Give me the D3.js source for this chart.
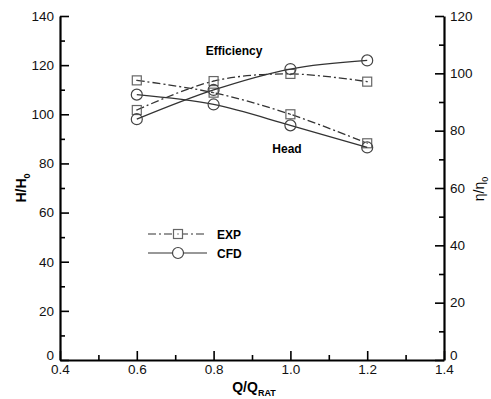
<!DOCTYPE html>
<html>
<head>
<meta charset="utf-8">
<script src="https://cdn.jsdelivr.net/npm/d3@7"></script>
<style>
  body { margin: 0; background: #fff; }
  text { font-family: "Liberation Sans", Arial, sans-serif; }
</style>
</head>
<body>
<div id="chart"></div>
<script>
// Data
var flowRatio = [0.6, 0.8, 1.0, 1.2];
var expHead = [113.8, 108.8, 100.0, 88.2];
var cfdHead = [108.0, 104.0, 95.5, 86.5];
var expEff = [87.2, 97.3, 99.8, 97.1];
var cfdEff = [84.0, 94.2, 101.5, 104.5];
var xTicks = [0.4, 0.6, 0.8, 1.0, 1.2, 1.4];
var leftTicks = [0, 20, 40, 60, 80, 100, 120, 140];
var rightTicks = [0, 20, 40, 60, 80, 100, 120];

var svgWidth = 491;
var svgHeight = 399;
var margin = { top: 16, right: 47, bottom: 39, left: 60 };
var width = svgWidth - margin.left - margin.right;
var height = svgHeight - margin.top - margin.bottom;

var svg = d3.select("#chart")
  .append("svg")
  .attr("width", svgWidth)
  .attr("height", svgHeight);

var chartGroup = svg.append("g")
  .attr("transform", `translate(${margin.left}, ${margin.top})`);

var x = d3.scaleLinear().domain([0.4, 1.4]).range([0, width]);
var yLeft = d3.scaleLinear().domain([0, 140]).range([height, 0]);
var yRight = d3.scaleLinear().domain([0, 120]).range([height, 0]);

// Axes: major ticks inward, minor ticks half way
function minor(ticks) {
  var out = [];
  for (var i = 0; i < ticks.length - 1; i++) out.push((ticks[i] + ticks[i + 1]) / 2);
  return out;
}

var bottomAxis = chartGroup.append("g")
  .attr("transform", `translate(0, ${height})`)
  .call(d3.axisBottom(x).tickValues(xTicks).tickFormat(d3.format(".1f")).tickSizeInner(-9).tickSizeOuter(0).tickPadding(4));
bottomAxis.append("g")
  .call(d3.axisBottom(x).tickValues(minor(xTicks)).tickFormat("").tickSizeInner(-5).tickSizeOuter(0))
  .select(".domain").remove();

var leftAxis = chartGroup.append("g")
  .call(d3.axisLeft(yLeft).tickValues(leftTicks).tickSizeInner(-9).tickSizeOuter(0).tickPadding(6));
leftAxis.append("g")
  .call(d3.axisLeft(yLeft).tickValues(minor(leftTicks)).tickFormat("").tickSizeInner(-5).tickSizeOuter(0))
  .select(".domain").remove();

var rightAxis = chartGroup.append("g")
  .attr("transform", `translate(${width}, 0)`)
  .call(d3.axisRight(yRight).tickValues(rightTicks).tickSizeInner(-9).tickSizeOuter(0).tickPadding(6));
rightAxis.append("g")
  .call(d3.axisRight(yRight).tickValues(minor(rightTicks)).tickFormat("").tickSizeInner(-5).tickSizeOuter(0))
  .select(".domain").remove();

chartGroup.selectAll(".domain").attr("stroke", "#000").attr("stroke-width", 2.2);
chartGroup.selectAll(".tick line").attr("stroke", "#000").attr("stroke-width", 1.6);
chartGroup.selectAll(".tick text")
  .attr("font-size", 13.5)
  .attr("fill", "#111")
  .style("font-family", "'Liberation Sans', Arial, sans-serif");

// lift the "0" labels a little so they sit above the x tick labels
leftAxis.selectAll(".tick text").filter(d => d === 0).attr("dy", "-0.05em");
rightAxis.selectAll(".tick text").filter(d => d === 0).attr("dy", "-0.05em");

// Series
var series = [
  { values: expHead, scale: yLeft, dash: "8,3,2,3", marker: "square" },
  { values: expEff, scale: yRight, dash: "8,3,2,3", marker: "square" },
  { values: cfdHead, scale: yLeft, dash: null, marker: "circle" },
  { values: cfdEff, scale: yRight, dash: null, marker: "circle" }
];

series.forEach(function(s) {
  var line = d3.line()
    .x((d, i) => x(flowRatio[i]))
    .y(d => s.scale(d))
    .curve(d3.curveCatmullRom);

  chartGroup.append("path")
    .datum(s.values)
    .attr("d", line)
    .attr("fill", "none")
    .attr("stroke", "#333")
    .attr("stroke-width", 1.3)
    .attr("stroke-dasharray", s.dash);

  var pts = chartGroup.selectAll(null)
    .data(s.values)
    .enter();

  if (s.marker === "square") {
    pts.append("rect")
      .attr("x", (d, i) => x(flowRatio[i]) - 4.5)
      .attr("y", d => s.scale(d) - 4.5)
      .attr("width", 9)
      .attr("height", 9)
      .attr("fill", "none")
      .attr("stroke", "#666")
      .attr("stroke-width", 1.2);
    pts.append("rect")
      .attr("x", (d, i) => x(flowRatio[i]) - 0.6)
      .attr("y", d => s.scale(d) - 0.6)
      .attr("width", 1.2)
      .attr("height", 1.2)
      .attr("fill", "#555");
  } else {
    pts.append("circle")
      .attr("cx", (d, i) => x(flowRatio[i]))
      .attr("cy", d => s.scale(d))
      .attr("r", 5.5)
      .attr("fill", "none")
      .attr("stroke", "#444")
      .attr("stroke-width", 1.2);
  }
});

// Curve labels
chartGroup.append("text")
  .attr("x", 174)
  .attr("y", 39)
  .attr("text-anchor", "middle")
  .attr("font-size", 12)
  .attr("font-weight", "bold")
  .text("Efficiency");

chartGroup.append("text")
  .attr("x", 227)
  .attr("y", 137)
  .attr("text-anchor", "middle")
  .attr("font-size", 12)
  .attr("font-weight", "bold")
  .text("Head");

// Legend
var legend = chartGroup.append("g").attr("transform", "translate(88, 218)");
legend.append("line")
  .attr("x1", 0).attr("x2", 59).attr("y1", 0).attr("y2", 0)
  .attr("stroke", "#333").attr("stroke-width", 1.2).attr("stroke-dasharray", "8,3,2,3");
legend.append("rect")
  .attr("x", 25.5).attr("y", -4.5).attr("width", 9).attr("height", 9)
  .attr("fill", "#fff").attr("stroke", "#666").attr("stroke-width", 1.2);
legend.append("rect")
  .attr("x", 29.4).attr("y", -0.6).attr("width", 1.2).attr("height", 1.2).attr("fill", "#555");
legend.append("text")
  .attr("x", 69).attr("y", 4.5)
  .attr("font-size", 12).attr("font-weight", "bold")
  .text("EXP");

legend.append("line")
  .attr("x1", 0).attr("x2", 59).attr("y1", 19).attr("y2", 19)
  .attr("stroke", "#333").attr("stroke-width", 1.2);
legend.append("circle")
  .attr("cx", 30).attr("cy", 19).attr("r", 5.5)
  .attr("fill", "#fff").attr("stroke", "#444").attr("stroke-width", 1.2);
legend.append("text")
  .attr("x", 69).attr("y", 23.5)
  .attr("font-size", 12).attr("font-weight", "bold")
  .text("CFD");

// Axis titles
var xTitle = svg.append("text")
  .attr("x", 254)
  .attr("y", 392)
  .attr("text-anchor", "middle")
  .attr("font-size", 14)
  .attr("font-weight", "bold");
xTitle.append("tspan").text("Q/Q");
xTitle.append("tspan").attr("dy", 4).attr("font-size", 9).text("RAT");

var yTitle = svg.append("text")
  .attr("transform", "translate(26, 188) rotate(-90)")
  .attr("text-anchor", "middle")
  .attr("font-size", 14)
  .attr("font-weight", "bold");
yTitle.append("tspan").text("H/H");
yTitle.append("tspan").attr("dy", 4).attr("font-size", 9).text("0");

var y2Title = svg.append("text")
  .attr("transform", "translate(484, 189) rotate(-90)")
  .attr("text-anchor", "middle")
  .attr("font-size", 14);
y2Title.append("tspan").text("η/η");
y2Title.append("tspan").attr("dy", 4).attr("font-size", 9).text("0");
</script>
</body>
</html>
